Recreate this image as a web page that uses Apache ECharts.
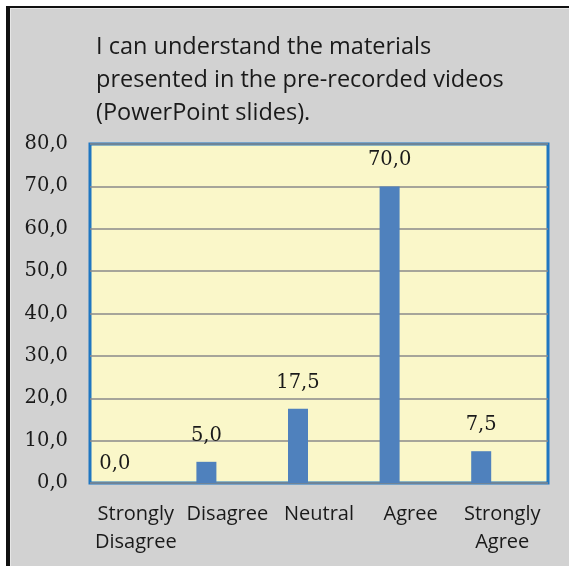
<!DOCTYPE html>
<html>
<head>
<meta charset="utf-8">
<script src="https://cdn.jsdelivr.net/npm/echarts@6/dist/echarts.min.js"></script>
<style>
  html, body { margin: 0; padding: 0; background: #ffffff; }
  #chart { width: 569px; height: 566px; }
</style>
</head>
<body>
<div id="chart"></div>
<script>
// Survey responses, percentage of students
const categories = ['Strongly\nDisagree', 'Disagree', 'Neutral', 'Agree', 'Strongly\nAgree'];
const percentages = [0.0, 5.0, 17.5, 70.0, 7.5];
const titleLines = [
  'I can understand the materials',
  'presented in the pre-recorded videos',
  '(PowerPoint slides).'
];
const yMin = 0, yMax = 80, yStep = 10;

const fmt = v => Number(v).toFixed(1).replace('.', ',');

const chart = echarts.init(document.getElementById('chart'), null, { renderer: 'canvas' });

const barData = percentages.map(v => v === 0
  ? { value: v, label: { distance: 9 } }
  : v);

chart.setOption({
  backgroundColor: '#ffffff',
  animation: false,
  graphic: [
    { type: 'rect', shape: { x: 6, y: 6, width: 563, height: 560 }, style: { fill: '#d2d2d2' }, z: -10 },
    { type: 'rect', shape: { x: 10, y: 8, width: 559, height: 1 }, style: { fill: '#e6e6e6' }, z: -9 },
    { type: 'rect', shape: { x: 10, y: 8, width: 1, height: 558 }, style: { fill: '#e6e6e6' }, z: -9 },
    { type: 'rect', shape: { x: 6, y: 6, width: 563, height: 2 }, style: { fill: '#111111' }, z: -8 },
    { type: 'rect', shape: { x: 6, y: 6, width: 4, height: 560 }, style: { fill: '#111111' }, z: -8 }
  ],
  title: {
    text: titleLines.join('\n'),
    left: 96,
    top: 31,
    padding: 0,
    textStyle: {
      fontFamily: 'Open Sans',
      fontWeight: 'normal',
      fontSize: 23.5,
      lineHeight: 33,
      color: '#1a1a1a'
    }
  },
  grid: {
    left: 90,
    right: 21,
    top: 144,
    bottom: 83,
    show: true,
    backgroundColor: '#faf7c9',
    borderColor: '#1f76c1',
    borderWidth: 3,
    containLabel: false
  },
  xAxis: {
    type: 'category',
    data: categories,
    axisLine: { show: false },
    axisTick: { show: false },
    axisLabel: {
      margin: 17,
      fontFamily: 'Open Sans',
      fontSize: 20,
      lineHeight: 28,
      color: '#1a1a1a',
      interval: 0
    }
  },
  yAxis: {
    type: 'value',
    min: yMin,
    max: yMax,
    interval: yStep,
    axisLine: { show: false },
    axisTick: { show: false },
    splitLine: { lineStyle: { color: '#8a8a8a', width: 1.5 } },
    axisLabel: {
      margin: 22,
      fontFamily: 'DejaVu Serif',
      fontSize: 19.5,
      color: '#1a1a1a',
      formatter: fmt
    }
  },
  series: [
    {
      type: 'bar',
      data: barData,
      barWidth: 20,
      barGap: '110%',
      itemStyle: { color: '#4f81bd' },
      label: {
        show: true,
        position: 'top',
        distance: 16,
        fontFamily: 'DejaVu Serif',
        fontSize: 19.5,
        color: '#1a1a1a',
        formatter: p => fmt(p.value)
      },
      z: 3
    },
    {
      type: 'bar',
      data: [],
      barWidth: 20
    }
  ]
});
</script>
</body>
</html>
